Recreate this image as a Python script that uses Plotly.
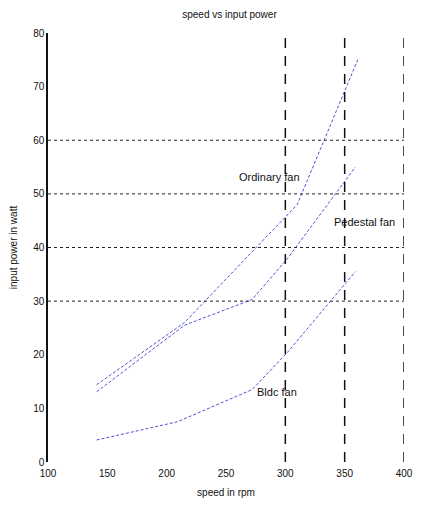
import plotly.graph_objects as go

# Measured speed (rpm) and input power (W) for each fan type
ordinary_speed = [141, 215, 310, 361]
ordinary_power = [14.4, 26.0, 48.0, 75.0]

pedestal_speed = [141, 215, 272, 302, 359]
pedestal_power = [13.1, 25.5, 30.3, 38.0, 55.0]

bldc_speed = [141, 209, 272, 302, 359]
bldc_power = [4.1, 7.5, 13.5, 20.5, 35.5]

# Curve labels: (text, speed, power)
curve_labels = [
    ("Ordinary fan", 287, 53.2),
    ("Pedestal fan", 367, 44.8),
    ("Bldc fan", 293, 13.1),
]

x_ticks = [100, 150, 200, 250, 300, 350, 400]
y_ticks = [0, 10, 20, 30, 40, 50, 60, 70, 80]
h_ref = [30, 40, 50, 60]
v_ref = [300, 350, 400]

FONT = "Liberation Sans"
curve_color = "#5050d8"

fig = go.Figure()
for sx, py in [(ordinary_speed, ordinary_power),
               (pedestal_speed, pedestal_power),
               (bldc_speed, bldc_power)]:
    fig.add_trace(go.Scatter(
        x=sx, y=py, mode="lines",
        line=dict(color=curve_color, width=1, dash="3px,2px"),
        showlegend=False, hoverinfo="skip",
    ))

shapes = []
for yv in h_ref:
    shapes.append(dict(type="line", xref="x", yref="y",
                       x0=x_ticks[0], x1=x_ticks[-1], y0=yv, y1=yv,
                       line=dict(color="#222222", width=1, dash="dot")))
for xv in v_ref:
    shapes.append(dict(type="line", xref="x", yref="y",
                       x0=xv, x1=xv, y0=y_ticks[0], y1=y_ticks[-1],
                       line=dict(color="#111111", width=1.5, dash="10px,8px")))

annotations = [dict(x=sx, y=py, xref="x", yref="y", text=t, showarrow=False,
                    font=dict(family=FONT, size=11, color="#111111"))
               for t, sx, py in curve_labels]

fig.update_layout(
    width=425, height=508,
    margin=dict(l=47, r=12, t=33, b=46),
    paper_bgcolor="white", plot_bgcolor="white",
    title=dict(text="speed vs input power", x=0.54, xanchor="center",
               y=0.972, yanchor="middle",
               font=dict(family=FONT, size=10, color="#111111")),
    font=dict(family=FONT, size=10, color="#111111"),
    shapes=shapes, annotations=annotations,
    xaxis=dict(range=[x_ticks[0], x_ticks[-1]], tickvals=x_ticks,
               showgrid=False, zeroline=False, showline=False,
               ticks="", tickfont=dict(size=10), ticklabelstandoff=4,
               title=dict(text="speed in rpm", standoff=10,
                          font=dict(size=10))),
    yaxis=dict(range=[y_ticks[0], y_ticks[-1]], tickvals=y_ticks,
               showgrid=False, zeroline=False, showline=True,
               linecolor="#111111", linewidth=1.5,
               ticks="", tickfont=dict(size=10),
               title=dict(text="input power in watt", standoff=14,
                          font=dict(size=10))),
)

fig.write_html("out.html")
